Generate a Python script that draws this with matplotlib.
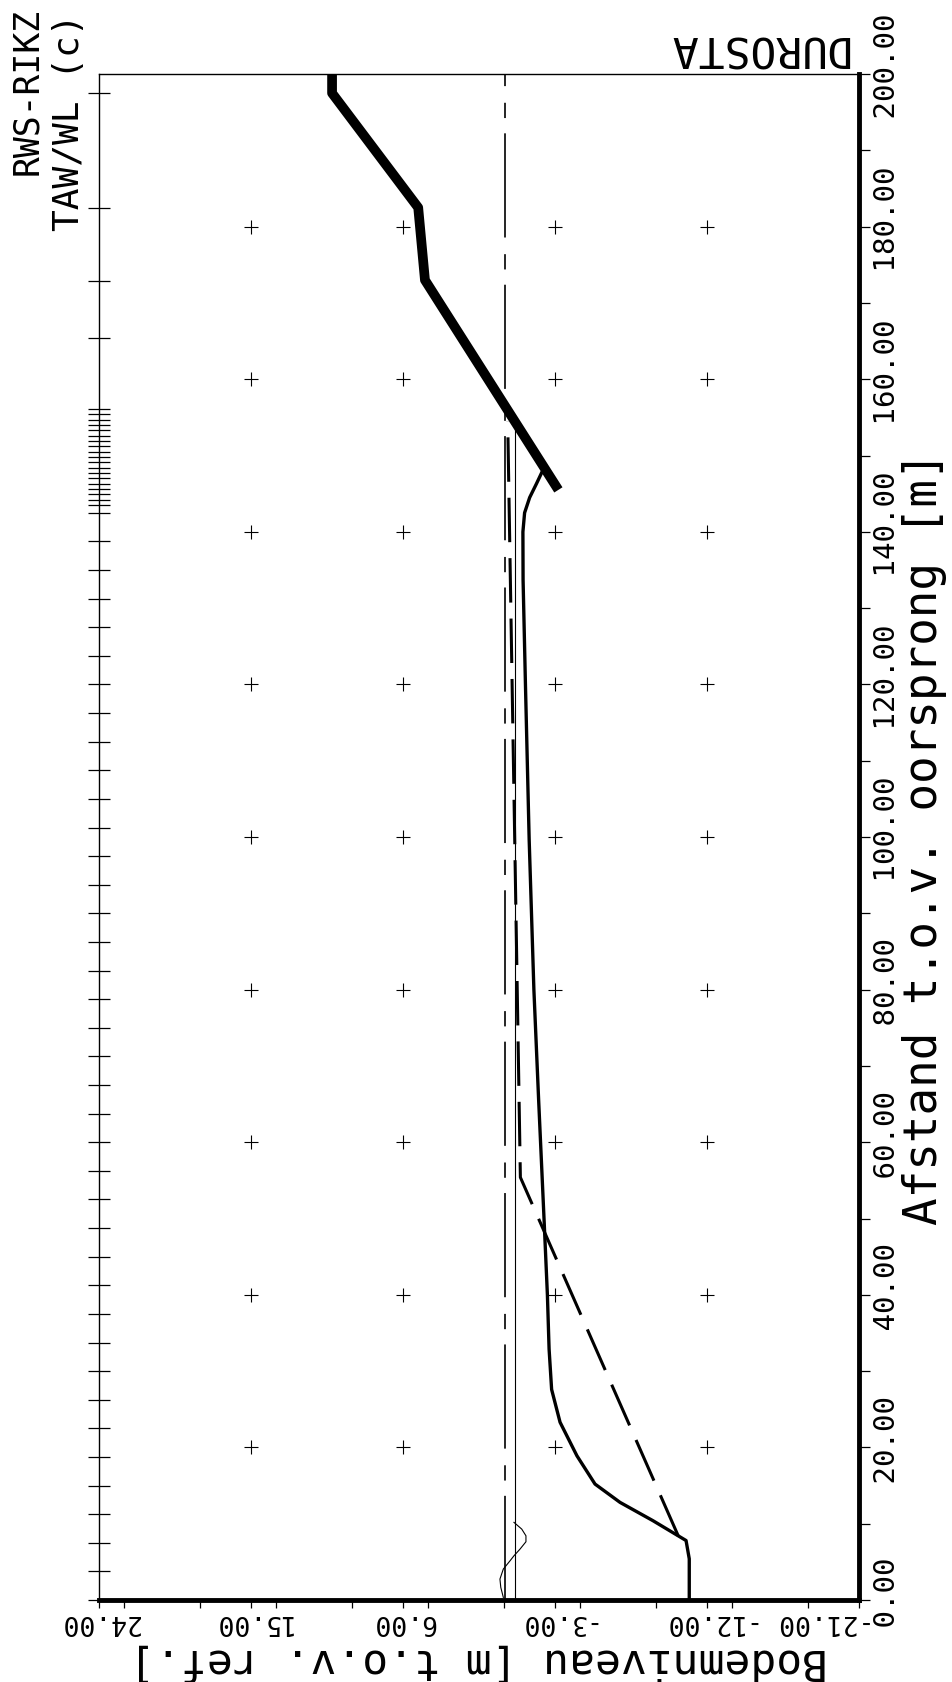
import matplotlib
matplotlib.use("Agg")
import matplotlib.pyplot as plt
import numpy as np
from matplotlib.ticker import MultipleLocator, FixedLocator, FuncFormatter

plt.rcParams["font.family"] = ["DejaVu Sans Mono"]
plt.rcParams["lines.scale_dashes"] = False

# --- profielen (afstand [m], niveau [m t.o.v. ref.]) ---
initieel_d = [145.5, 173.0, 182.5, 197.5, 200.0]
initieel_z = [-3.2, 4.7, 5.1, 10.2, 10.2]

eind_d = [0, 5.4, 7.8, 10.4, 12.8, 15.2, 18.9, 23.3, 27.6, 32.9, 40, 50, 65.6,
          80, 99.7, 120, 133.7, 140, 142.5, 144.5, 146.3, 147.7]
eind_z = [-10.95, -10.95, -10.76, -8.8, -6.85, -5.37, -4.3, -3.3, -2.8, -2.65,
          -2.55, -2.35, -2.03, -1.75, -1.47, -1.25, -1.11, -1.1, -1.2, -1.5,
          -1.9, -2.2]

evenwicht_d = [8.4, 55.4, 154.5]
evenwicht_z = [-10.3, -0.95, -0.2]

waterstand_d = [0, 200]
waterstand_z = [-0.05, -0.05]

golf_d = [0, 153.5]
golf_z = [-0.62, -0.62]

opzet_d = [0.35, 1.66, 2.75, 4.06, 5.15, 5.8, 6.68, 7.64, 8.42, 9.3, 10.18]
opzet_z = [0.06, 0.21, 0.26, 0.06, -0.34, -0.57, -0.93, -1.28, -1.28, -1.03, -0.57]

# rekenroosterpunten (streepjes langs de bovenrand)
rooster = list(np.arange(0, 143, 3.75)) + [143.5, 144.2, 144.9, 145.6, 146.3,
          147.0, 147.7, 148.4, 149.1, 149.8, 150.5, 151.2, 151.9, 152.6,
          153.3, 154.0, 154.7, 155.4, 156.1] + [165.4, 172.9, 182.4, 197.5]

raster_d = [20, 40, 60, 80, 100, 120, 140, 160, 180]
raster_z = [15, 6, -3, -12]

niveau_ticks = [-21, -12, -3, 6, 15, 24]


def afstand_fmt(v, pos):
    return " %.2f" % v


def niveau_fmt(v, pos):
    # laatste label schuift op de plotter iets weg van de hoek
    if abs(v + 21) < 1e-6:
        return "    %.2f" % v
    return "%.2f" % v


fig = plt.figure(figsize=(9.52, 16.83), dpi=100)
ax = fig.add_axes([0.104, 0.0487, 0.7983, 0.9067])

ax.set_xlim(24, -21)
ax.set_ylim(0, 200)

# --- rasterkruisjes ---
for d in raster_d:
    ax.plot(raster_z, [d] * len(raster_z), "+", color="black",
            markersize=10, markeredgewidth=0.8, zorder=2)

# --- lijnen ---
ax.plot(waterstand_z, waterstand_d, color="black", linewidth=1.2,
        dashes=(75, 11, 11, 12), zorder=3)
ax.plot(golf_z, golf_d, color="black", linewidth=0.8, zorder=3)
ax.plot(opzet_z, opzet_d, color="black", linewidth=0.8, zorder=3)
ax.plot(evenwicht_z, evenwicht_d, color="black", linewidth=2.2,
        dashes=(32, 11.5), zorder=4)
ax.plot(eind_z, eind_d, color="black", linewidth=2.4, zorder=4)
ax.plot(initieel_z, initieel_d, color="black", linewidth=7,
        solid_capstyle="butt", zorder=5)

# --- roosterstreepjes op de linkerrand ---
ax.hlines(rooster, -0.015, 0.015, transform=ax.get_yaxis_transform(),
          color="black", linewidth=0.9, clip_on=False)

# --- assen ---
for s in ["right", "bottom"]:
    ax.spines[s].set_linewidth(3.5)
for s in ["left", "top"]:
    ax.spines[s].set_linewidth(1.0)

ax.yaxis.tick_right()
ax.yaxis.set_label_position("right")
ax.yaxis.set_major_locator(MultipleLocator(20))
ax.yaxis.set_minor_locator(MultipleLocator(10))
ax.yaxis.set_major_formatter(FuncFormatter(afstand_fmt))
ax.xaxis.set_major_locator(FixedLocator(niveau_ticks))
ax.xaxis.set_minor_locator(MultipleLocator(4.5))
ax.xaxis.set_major_formatter(FuncFormatter(niveau_fmt))

ax.tick_params(axis="both", which="both", direction="out", width=0.9)
ax.tick_params(axis="y", which="both", left=False, right=True, length=8,
               pad=2, labelsize=21, labelrotation=90)
ax.tick_params(axis="x", which="both", top=False, bottom=True, length=6,
               pad=0, labelsize=19, labelrotation=180)
for lab in ax.get_yticklabels():
    lab.set_va("center")
for lab in ax.get_xticklabels():
    lab.set_va("top")

ax.set_ylabel("Afstand t.o.v. oorsprong [m]", fontsize=33, rotation=90)
ax.yaxis.set_label_coords(1.0566, 0.5)
ax.set_xlabel("Bodemniveau [m t.o.v. ref.]", fontsize=31, rotation=180)
ax.xaxis.set_label_coords(0.5, -0.0256)

# --- titels ---
fig.text(0.891, 0.972, "DUROSTA", fontsize=31, rotation=180,
         ha="right", va="center")
fig.text(0.028, 0.995, "RWS-RIKZ", fontsize=25, rotation=90,
         ha="center", va="top")
fig.text(0.072, 0.992, "TAW/WL (c)", fontsize=26, rotation=90,
         ha="center", va="top")

plt.savefig("out.png", dpi=100)
plt.close()
